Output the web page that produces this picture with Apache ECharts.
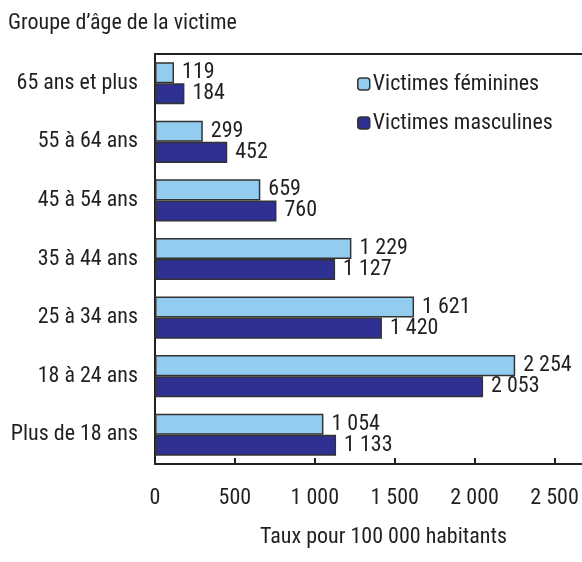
<!DOCTYPE html>
<html>
<head>
<meta charset="utf-8">
<script src="https://cdn.jsdelivr.net/npm/echarts@6/dist/echarts.min.js"></script>
<style>
  html, body { margin: 0; padding: 0; background: #ffffff; }
  #chart { width: 582px; height: 562px; }
</style>
</head>
<body>
<div id="chart"></div>
<script>
// Taux de victimisation selon le groupe d'âge et le sexe de la victime
var ageGroups = ['65 ans et plus', '55 à 64 ans', '45 à 54 ans', '35 à 44 ans', '25 à 34 ans', '18 à 24 ans', 'Plus de 18 ans'];
var femaleRates = [119, 299, 659, 1229, 1621, 2254, 1054];
var maleRates = [184, 452, 760, 1127, 1420, 2053, 1133];
var xTicks = [0, 500, 1000, 1500, 2000, 2500];

var FONT = '"Roboto Condensed", "Liberation Sans Narrow", "Liberation Sans", sans-serif';
var INK = '#231f20';

function frNumber(v) {
  return String(v).replace(/\B(?=(\d{3})+(?!\d))/g, ' ');
}

var chart = echarts.init(document.getElementById('chart'), null, { renderer: 'canvas' });

function barSeries(name, data, color) {
  return {
    name: name,
    type: 'bar',
    data: data,
    barCategoryGap: '28%',
    barGap: '0%',
    itemStyle: { color: color, borderColor: '#333333', borderWidth: 1.5 },
    label: {
      show: true,
      position: 'right',
      distance: 8,
      color: INK,
      fontFamily: FONT,
      fontSize: 22,
      formatter: function (p) { return frNumber(p.value); }
    }
  };
}

chart.setOption({
  animation: false,
  textStyle: { fontFamily: FONT },
  title: {
    text: 'Groupe d\u2019âge de la victime',
    left: 3,
    top: 7,
    textStyle: { fontFamily: FONT, fontSize: 22, fontWeight: 'normal', color: INK }
  },
  legend: {
    orient: 'vertical',
    left: 352,
    top: 68,
    itemWidth: 12,
    itemHeight: 12,
    itemGap: 17,
    itemStyle: { borderColor: '#333333', borderWidth: 1.5 },
    textStyle: { fontFamily: FONT, fontSize: 22, color: INK, padding: [0, 0, 0, -2] },
    data: ['Victimes féminines', 'Victimes masculines']
  },
  grid: { left: 155, top: 54, right: 0, bottom: 98, containLabel: false },
  xAxis: [{
    type: 'value',
    min: 0,
    max: 2672,
    position: 'bottom',
    name: 'Taux pour 100 000 habitants',
    nameLocation: 'middle',
    nameGap: 62,
    nameTextStyle: { fontFamily: FONT, fontSize: 22, color: INK, padding: [0, 0, 0, 30] },
    axisLine: { show: true, lineStyle: { color: INK, width: 2 } },
    axisTick: { show: true, inside: true, length: 6, customValues: xTicks, lineStyle: { color: INK, width: 2 } },
    axisLabel: {
      customValues: xTicks,
      margin: 23,
      fontFamily: FONT, fontSize: 22, color: INK,
      formatter: function (v) { return frNumber(v); }
    },
    splitLine: { show: false }
  }, {
    type: 'value',
    min: 0,
    max: 2672,
    position: 'top',
    axisLine: { show: true, lineStyle: { color: INK, width: 2 } },
    axisTick: { show: false },
    axisLabel: { show: false },
    splitLine: { show: false }
  }],
  yAxis: {
    type: 'category',
    inverse: true,
    data: ageGroups,
    axisLine: { show: true, lineStyle: { color: INK, width: 2 } },
    axisTick: { show: false },
    axisLabel: { margin: 17, fontFamily: FONT, fontSize: 22, color: INK }
  },
  series: [
    barSeries('Victimes féminines', femaleRates, '#92cdf0'),
    barSeries('Victimes masculines', maleRates, '#2e3192')
  ]
});
</script>
</body>
</html>
